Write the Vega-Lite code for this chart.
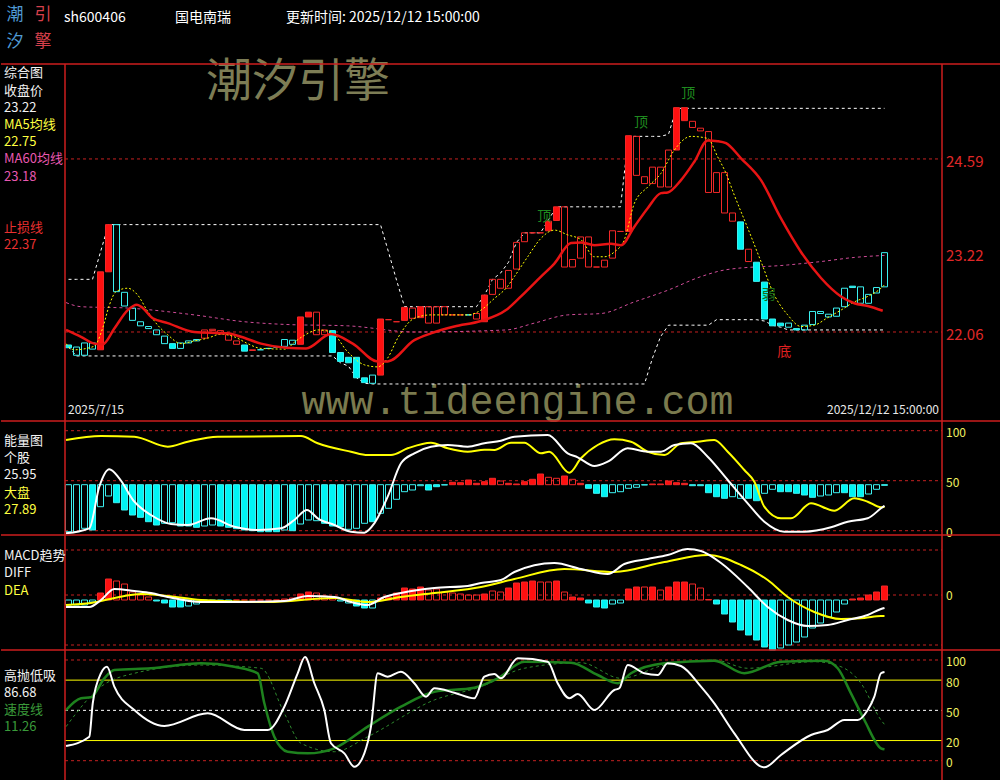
{
"$schema":"https://vega.github.io/schema/vega-lite/v6.json",
"background":"#000000",
"padding":0,
"bounds":"flush",
"spacing":0,
"config":{"view":{"stroke":null},"text":{"font":"Noto Sans CJK SC"},"scale":{"continuousPadding":0}},
"datasets":{
"logo":[{"ch":"潮","c":0,"r":0,"g":"tide"},{"ch":"引","c":1,"r":0,"g":"engine"},{"ch":"汐","c":0,"r":1,"g":"tide"},{"ch":"擎","c":1,"r":1,"g":"engine"}],
"info":[{"t":"sh600406","slot":0,"r":0},{"t":"国电南瑞","slot":1,"r":0},{"t":"更新时间: 2025/12/12 15:00:00","slot":2,"r":0}],
"k":[
{"i":0,"o":21.87,"c":21.83,"t":"dn","s":1,"hh":22.83,"ll":21.84},
{"i":1,"o":21.84,"c":21.72,"t":"dn","s":0,"hh":22.83,"ll":21.71},
{"i":2,"o":21.90,"c":21.72,"t":"dn","s":0,"hh":22.83,"ll":21.71},
{"i":3,"o":21.90,"c":21.81,"t":"dn","s":0,"hh":22.83,"ll":21.71},
{"i":4,"o":22.94,"c":21.80,"t":"up","s":1,"hh":23.23,"ll":21.71},
{"i":5,"o":23.63,"c":22.94,"t":"up","s":1,"hh":23.63,"ll":21.71},
{"i":6,"o":23.63,"c":22.65,"t":"dn","s":0,"hh":23.63,"ll":21.71},
{"i":7,"o":22.64,"c":22.44,"t":"dn","s":0,"hh":23.63,"ll":21.71},
{"i":8,"o":22.41,"c":22.23,"t":"dn","s":0,"hh":23.63,"ll":21.71},
{"i":9,"o":22.21,"c":22.15,"t":"dn","s":0,"hh":23.63,"ll":21.71},
{"i":10,"o":22.14,"c":22.11,"t":"dn","s":0,"hh":23.63,"ll":21.71},
{"i":11,"o":22.09,"c":22.02,"t":"dn","s":0,"hh":23.63,"ll":21.71},
{"i":12,"o":22.00,"c":21.89,"t":"dn","s":0,"hh":23.63,"ll":21.71},
{"i":13,"o":21.89,"c":21.82,"t":"dn","s":1,"hh":23.63,"ll":21.71},
{"i":14,"o":21.90,"c":21.82,"t":"dn","s":0,"hh":23.63,"ll":21.71},
{"i":15,"o":21.93,"c":21.90,"t":"dn","s":0,"hh":23.63,"ll":21.71},
{"i":16,"o":21.95,"c":21.93,"t":"dn","s":0,"hh":23.63,"ll":21.71},
{"i":17,"o":22.09,"c":21.97,"t":"up","s":0,"hh":23.63,"ll":21.71},
{"i":18,"o":22.10,"c":22.08,"t":"up","s":0,"hh":23.63,"ll":21.71},
{"i":19,"o":22.08,"c":22.03,"t":"up","s":0,"hh":23.63,"ll":21.71},
{"i":20,"o":22.02,"c":21.94,"t":"up","s":0,"hh":23.63,"ll":21.71},
{"i":21,"o":21.93,"c":21.88,"t":"up","s":0,"hh":23.63,"ll":21.71},
{"i":22,"o":21.87,"c":21.78,"t":"dn","s":1,"hh":23.63,"ll":21.71},
{"i":23,"o":21.80,"c":21.79,"t":"up","s":0,"hh":23.63,"ll":21.71},
{"i":24,"o":21.80,"c":21.80,"t":"dn","s":0,"hh":23.63,"ll":21.71},
{"i":25,"o":21.82,"c":21.82,"t":"dn","s":0,"hh":23.63,"ll":21.71},
{"i":26,"o":21.84,"c":21.84,"t":"dn","s":0,"hh":23.63,"ll":21.71},
{"i":27,"o":21.95,"c":21.85,"t":"dn","s":0,"hh":23.63,"ll":21.71},
{"i":28,"o":21.94,"c":21.88,"t":"dn","s":0,"hh":23.63,"ll":21.71},
{"i":29,"o":22.28,"c":21.88,"t":"up","s":1,"hh":23.63,"ll":21.71},
{"i":30,"o":22.35,"c":22.28,"t":"up","s":1,"hh":23.63,"ll":21.71},
{"i":31,"o":22.35,"c":22.02,"t":"up","s":0,"hh":23.63,"ll":21.71},
{"i":32,"o":22.09,"c":22.02,"t":"up","s":0,"hh":23.63,"ll":21.71},
{"i":33,"o":22.08,"c":21.76,"t":"dn","s":1,"hh":23.63,"ll":21.71},
{"i":34,"o":21.76,"c":21.63,"t":"dn","s":1,"hh":23.63,"ll":21.61},
{"i":35,"o":21.69,"c":21.61,"t":"dn","s":1,"hh":23.63,"ll":21.56},
{"i":36,"o":21.69,"c":21.39,"t":"dn","s":1,"hh":23.63,"ll":21.39},
{"i":37,"o":21.39,"c":21.32,"t":"dn","s":1,"hh":23.63,"ll":21.31},
{"i":38,"o":21.43,"c":21.31,"t":"dn","s":0,"hh":23.63,"ll":21.30},
{"i":39,"o":22.25,"c":21.43,"t":"up","s":1,"hh":23.63,"ll":21.30},
{"i":40,"o":22.24,"c":22.24,"t":"up","s":0,"hh":23.23,"ll":21.30},
{"i":41,"o":22.21,"c":22.21,"t":"up","s":0,"hh":22.82,"ll":21.30},
{"i":42,"o":22.42,"c":22.23,"t":"up","s":1,"hh":22.43,"ll":21.30},
{"i":43,"o":22.41,"c":22.26,"t":"up","s":0,"hh":22.43,"ll":21.30},
{"i":44,"o":22.43,"c":22.27,"t":"up","s":1,"hh":22.43,"ll":21.30},
{"i":45,"o":22.43,"c":22.19,"t":"up","s":0,"hh":22.43,"ll":21.30},
{"i":46,"o":22.43,"c":22.19,"t":"up","s":0,"hh":22.43,"ll":21.30},
{"i":47,"o":22.43,"c":22.31,"t":"up","s":0,"hh":22.43,"ll":21.30},
{"i":48,"o":22.31,"c":22.31,"t":"up","s":0,"hh":22.43,"ll":21.30},
{"i":49,"o":22.31,"c":22.31,"t":"up","s":0,"hh":22.43,"ll":21.30},
{"i":50,"o":22.31,"c":22.31,"t":"dn","s":0,"hh":22.43,"ll":21.30},
{"i":51,"o":22.33,"c":22.25,"t":"up","s":0,"hh":22.43,"ll":21.30},
{"i":52,"o":22.60,"c":22.21,"t":"up","s":1,"hh":22.60,"ll":21.30},
{"i":53,"o":22.83,"c":22.61,"t":"up","s":0,"hh":22.83,"ll":21.30},
{"i":54,"o":22.83,"c":22.70,"t":"up","s":0,"hh":22.92,"ll":21.30},
{"i":55,"o":22.96,"c":22.70,"t":"up","s":0,"hh":23.08,"ll":21.30},
{"i":56,"o":23.37,"c":22.98,"t":"up","s":0,"hh":23.37,"ll":21.30},
{"i":57,"o":23.51,"c":23.38,"t":"up","s":0,"hh":23.51,"ll":21.30},
{"i":58,"o":23.51,"c":23.51,"t":"up","s":0,"hh":23.51,"ll":21.30},
{"i":59,"o":23.51,"c":23.51,"t":"up","s":0,"hh":23.51,"ll":21.30},
{"i":60,"o":23.68,"c":23.54,"t":"up","s":1,"hh":23.70,"ll":21.30},
{"i":61,"o":23.89,"c":23.69,"t":"up","s":1,"hh":23.89,"ll":21.30},
{"i":62,"o":23.89,"c":23.01,"t":"up","s":0,"hh":23.89,"ll":21.30},
{"i":63,"o":23.12,"c":23.01,"t":"up","s":0,"hh":23.89,"ll":21.30},
{"i":64,"o":23.45,"c":23.14,"t":"up","s":0,"hh":23.89,"ll":21.30},
{"i":65,"o":23.45,"c":23.01,"t":"up","s":0,"hh":23.89,"ll":21.30},
{"i":66,"o":23.01,"c":23.01,"t":"up","s":0,"hh":23.89,"ll":21.30},
{"i":67,"o":23.11,"c":23.01,"t":"up","s":0,"hh":23.89,"ll":21.30},
{"i":68,"o":23.54,"c":23.14,"t":"up","s":0,"hh":23.89,"ll":21.30},
{"i":69,"o":23.53,"c":23.53,"t":"up","s":0,"hh":23.89,"ll":21.30},
{"i":70,"o":24.93,"c":23.53,"t":"up","s":1,"hh":24.92,"ll":21.30},
{"i":71,"o":24.92,"c":24.35,"t":"up","s":0,"hh":24.92,"ll":21.30},
{"i":72,"o":24.33,"c":24.23,"t":"up","s":0,"hh":24.92,"ll":21.30},
{"i":73,"o":24.47,"c":24.23,"t":"up","s":0,"hh":24.92,"ll":21.68},
{"i":74,"o":24.47,"c":24.18,"t":"up","s":0,"hh":24.92,"ll":21.99},
{"i":75,"o":24.72,"c":24.18,"t":"up","s":0,"hh":24.95,"ll":22.16},
{"i":76,"o":25.34,"c":24.72,"t":"up","s":1,"hh":25.33,"ll":22.16},
{"i":77,"o":25.34,"c":25.15,"t":"up","s":1,"hh":25.33,"ll":22.16},
{"i":78,"o":25.14,"c":25.05,"t":"up","s":0,"hh":25.33,"ll":22.16},
{"i":79,"o":25.04,"c":25.00,"t":"up","s":0,"hh":25.33,"ll":22.16},
{"i":80,"o":24.99,"c":24.10,"t":"up","s":0,"hh":25.33,"ll":22.16},
{"i":81,"o":24.39,"c":24.10,"t":"up","s":0,"hh":25.33,"ll":22.24},
{"i":82,"o":24.39,"c":23.80,"t":"up","s":0,"hh":25.33,"ll":22.24},
{"i":83,"o":23.80,"c":23.68,"t":"up","s":0,"hh":25.33,"ll":22.24},
{"i":84,"o":23.67,"c":23.27,"t":"dn","s":1,"hh":25.33,"ll":22.24},
{"i":85,"o":23.27,"c":23.09,"t":"up","s":0,"hh":25.33,"ll":22.24},
{"i":86,"o":23.08,"c":22.80,"t":"dn","s":1,"hh":25.33,"ll":22.24},
{"i":87,"o":22.79,"c":22.25,"t":"dn","s":1,"hh":25.33,"ll":22.22},
{"i":88,"o":22.25,"c":22.15,"t":"dn","s":1,"hh":25.33,"ll":22.16},
{"i":89,"o":22.19,"c":22.15,"t":"dn","s":1,"hh":25.33,"ll":22.13},
{"i":90,"o":22.19,"c":22.13,"t":"dn","s":0,"hh":25.33,"ll":22.09},
{"i":91,"o":22.11,"c":22.09,"t":"dn","s":1,"hh":25.33,"ll":22.09},
{"i":92,"o":22.16,"c":22.09,"t":"dn","s":0,"hh":25.33,"ll":22.09},
{"i":93,"o":22.36,"c":22.17,"t":"dn","s":0,"hh":25.33,"ll":22.09},
{"i":94,"o":22.36,"c":22.33,"t":"dn","s":0,"hh":25.33,"ll":22.09},
{"i":95,"o":22.32,"c":22.28,"t":"dn","s":0,"hh":25.33,"ll":22.09},
{"i":96,"o":22.41,"c":22.29,"t":"dn","s":0,"hh":25.33,"ll":22.09},
{"i":97,"o":22.70,"c":22.43,"t":"dn","s":0,"hh":25.33,"ll":22.09},
{"i":98,"o":22.73,"c":22.71,"t":"dn","s":1,"hh":25.33,"ll":22.09},
{"i":99,"o":22.72,"c":22.48,"t":"dn","s":0,"hh":25.33,"ll":22.09},
{"i":100,"o":22.61,"c":22.48,"t":"dn","s":0,"hh":25.33,"ll":22.09},
{"i":101,"o":22.71,"c":22.63,"t":"dn","s":0,"hh":25.33,"ll":22.09},
{"i":102,"o":23.22,"c":22.72,"t":"dn","s":0,"hh":25.33,"ll":22.09}
],
"ma5":[{"i":-0.31,"v":21.89},{"i":0.69,"v":21.8},{"i":3.19,"v":21.85},{"i":4.28,"v":22.12},{"i":5.1,"v":22.45},{"i":5.94,"v":22.65},{"i":7.4,"v":22.7},{"i":8.65,"v":22.6},{"i":9.9,"v":22.36},{"i":11.15,"v":22.16},{"i":12.4,"v":22.02},{"i":14.06,"v":21.89},{"i":15.73,"v":21.93},{"i":17.4,"v":21.97},{"i":19.06,"v":22.03},{"i":20.73,"v":21.99},{"i":22.4,"v":21.89},{"i":24.06,"v":21.82},{"i":27.19,"v":21.81},{"i":28.23,"v":21.91},{"i":29.48,"v":22.01},{"i":31.15,"v":22.09},{"i":32.81,"v":22.06},{"i":34.9,"v":21.77},{"i":36.98,"v":21.58},{"i":38.65,"v":21.55},{"i":39.9,"v":21.68},{"i":41.15,"v":21.97},{"i":43.23,"v":22.26},{"i":45.31,"v":22.31},{"i":47.4,"v":22.31},{"i":49.9,"v":22.31},{"i":51.56,"v":22.38},{"i":53.23,"v":22.55},{"i":54.69,"v":22.7},{"i":55.73,"v":22.87},{"i":57.4,"v":23.16},{"i":59.06,"v":23.43},{"i":60.73,"v":23.55},{"i":62.4,"v":23.48},{"i":64.06,"v":23.41},{"i":65.73,"v":23.16},{"i":66.98,"v":23.16},{"i":68.23,"v":23.23},{"i":69.48,"v":23.41},{"i":70.73,"v":23.94},{"i":72.4,"v":24.18},{"i":74.06,"v":24.38},{"i":75.73,"v":24.72},{"i":77.81,"v":24.92},{"i":79.9,"v":24.89},{"i":81.15,"v":24.62},{"i":82.19,"v":24.38},{"i":83.23,"v":24.06},{"i":84.9,"v":23.58},{"i":86.56,"v":23.09},{"i":88.23,"v":22.6},{"i":89.9,"v":22.31},{"i":91.56,"v":22.14},{"i":93.23,"v":22.16},{"i":94.9,"v":22.27},{"i":96.56,"v":22.38},{"i":98.23,"v":22.5},{"i":99.9,"v":22.58},{"i":101.56,"v":22.7},{"i":102,"v":22.75}],
"ma60":[{"i":-0.31,"v":22.49},{"i":1.56,"v":22.43},{"i":7.4,"v":22.41},{"i":15.73,"v":22.31},{"i":21.98,"v":22.21},{"i":27.19,"v":22.17},{"i":34.9,"v":22.15},{"i":43.23,"v":22.06},{"i":54.69,"v":22.09},{"i":58.23,"v":22.19},{"i":62.4,"v":22.31},{"i":66.56,"v":22.33},{"i":70.73,"v":22.5},{"i":74.9,"v":22.67},{"i":79.06,"v":22.87},{"i":82.19,"v":22.97},{"i":89.9,"v":23.04},{"i":94.06,"v":23.09},{"i":98.23,"v":23.15},{"i":102,"v":23.18}],
"stop":[{"i":-0.31,"v":22.09},{"i":1.56,"v":21.99},{"i":3.23,"v":21.89},{"i":4.28,"v":21.88},{"i":5.73,"v":22.11},{"i":7.4,"v":22.38},{"i":8.56,"v":22.46},{"i":9.28,"v":22.41},{"i":10.53,"v":22.26},{"i":12.4,"v":22.19},{"i":15.73,"v":22.06},{"i":19.9,"v":22.04},{"i":21.56,"v":21.99},{"i":24.06,"v":21.89},{"i":27.19,"v":21.83},{"i":29.69,"v":21.82},{"i":32.81,"v":22.03},{"i":35.53,"v":21.89},{"i":38.65,"v":21.63},{"i":39.9,"v":21.63},{"i":43.23,"v":21.94},{"i":45.31,"v":22.04},{"i":48.23,"v":22.14},{"i":51.56,"v":22.22},{"i":54.69,"v":22.38},{"i":56.56,"v":22.58},{"i":59.06,"v":22.87},{"i":60.73,"v":23.06},{"i":62.81,"v":23.36},{"i":64.06,"v":23.37},{"i":65.73,"v":23.33},{"i":67.81,"v":23.35},{"i":69.06,"v":23.33},{"i":70.73,"v":23.6},{"i":72.4,"v":23.87},{"i":74.06,"v":24.09},{"i":74.9,"v":24.1},{"i":76.56,"v":24.28},{"i":78.23,"v":24.55},{"i":79.9,"v":24.86},{"i":81.15,"v":24.85},{"i":82.19,"v":24.82},{"i":84.06,"v":24.6},{"i":86.56,"v":24.28},{"i":89.06,"v":23.72},{"i":91.56,"v":23.23},{"i":94.06,"v":22.85},{"i":96.56,"v":22.58},{"i":98.23,"v":22.48},{"i":99.9,"v":22.44},{"i":101.78,"v":22.37}],
"ann":[{"i":59.48,"v":23.74,"kind":"top","t":"顶"},{"i":71.56,"v":25.12,"kind":"top","t":"顶"},{"i":77.48,"v":25.54,"kind":"top","t":"顶"},{"i":87.53,"v":22.6,"kind":"weak","t":"弱"},{"i":89.48,"v":21.77,"kind":"bottom","t":"底"}],
"en":[{"i":0,"v":-1,"s":0},{"i":1,"v":-1,"s":0},{"i":2,"v":2.4,"s":0},{"i":3,"v":0.7,"s":1},{"i":4,"v":24,"s":0},{"i":5,"v":34.7,"s":0},{"i":6,"v":28,"s":1},{"i":7,"v":20.7,"s":1},{"i":8,"v":15.7,"s":1},{"i":9,"v":13.4,"s":1},{"i":10,"v":9,"s":1},{"i":11,"v":5.7,"s":1},{"i":12,"v":7.4,"s":0},{"i":13,"v":8,"s":0},{"i":14,"v":4.7,"s":1},{"i":15,"v":4.7,"s":1},{"i":16,"v":3.4,"s":1},{"i":17,"v":4.7,"s":0},{"i":18,"v":5.7,"s":0},{"i":19,"v":4.7,"s":1},{"i":20,"v":3.4,"s":1},{"i":21,"v":2,"s":1},{"i":22,"v":0.7,"s":1},{"i":23,"v":0,"s":1},{"i":24,"v":-1,"s":1},{"i":25,"v":-1,"s":1},{"i":26,"v":-1,"s":1},{"i":27,"v":0.7,"s":0},{"i":28,"v":0,"s":1},{"i":29,"v":6.7,"s":0},{"i":30,"v":10.7,"s":0},{"i":31,"v":10,"s":0},{"i":32,"v":7.4,"s":1},{"i":33,"v":4.7,"s":1},{"i":34,"v":4,"s":1},{"i":35,"v":1.4,"s":0},{"i":36,"v":2.4,"s":0},{"i":37,"v":7.4,"s":0},{"i":38,"v":9,"s":1},{"i":39,"v":17.4,"s":0},{"i":40,"v":22.4,"s":0},{"i":41,"v":31.4,"s":0},{"i":42,"v":39,"s":0},{"i":43,"v":40.7,"s":0},{"i":44,"v":45,"s":0},{"i":45,"v":40.7,"s":1},{"i":46,"v":44,"s":1},{"i":47,"v":45.7,"s":0},{"i":48,"v":48.4,"s":1},{"i":49,"v":48,"s":1},{"i":50,"v":50.7,"s":1},{"i":51,"v":47.4,"s":1},{"i":52,"v":49,"s":1},{"i":53,"v":52.4,"s":1},{"i":54,"v":49.7,"s":0},{"i":55,"v":47.4,"s":1},{"i":56,"v":46.7,"s":1},{"i":57,"v":49,"s":1},{"i":58,"v":51.4,"s":1},{"i":59,"v":56.7,"s":1},{"i":60,"v":53.4,"s":0},{"i":61,"v":52.4,"s":0},{"i":62,"v":54.7,"s":1},{"i":63,"v":51.4,"s":0},{"i":64,"v":47.4,"s":1},{"i":65,"v":42.4,"s":1},{"i":66,"v":37.4,"s":1},{"i":67,"v":34,"s":1},{"i":68,"v":38,"s":0},{"i":69,"v":39,"s":0},{"i":70,"v":42.4,"s":0},{"i":71,"v":43.4,"s":0},{"i":72,"v":45.7,"s":0},{"i":73,"v":46.7,"s":1},{"i":74,"v":46.7,"s":1},{"i":75,"v":49.7,"s":1},{"i":76,"v":48,"s":1},{"i":77,"v":47.4,"s":1},{"i":78,"v":45,"s":1},{"i":79,"v":45,"s":1},{"i":80,"v":38,"s":1},{"i":81,"v":34,"s":1},{"i":82,"v":32.4,"s":1},{"i":83,"v":34,"s":0},{"i":84,"v":32.4,"s":0},{"i":85,"v":32.4,"s":1},{"i":86,"v":30,"s":1},{"i":87,"v":37.4,"s":0},{"i":88,"v":41.4,"s":0},{"i":89,"v":39,"s":1},{"i":90,"v":39,"s":1},{"i":91,"v":37.4,"s":1},{"i":92,"v":35.7,"s":1},{"i":93,"v":33.4,"s":1},{"i":94,"v":34.7,"s":0},{"i":95,"v":35.7,"s":0},{"i":96,"v":38,"s":0},{"i":97,"v":38,"s":1},{"i":98,"v":34,"s":1},{"i":99,"v":34,"s":1},{"i":100,"v":36.7,"s":0},{"i":101,"v":41.4,"s":0},{"i":102,"v":45.4,"s":1}],
"enw":[{"i":-0.31,"v":-2.6},{"i":2.6,"v":2.4},{"i":3.85,"v":44},{"i":5.1,"v":61.4},{"i":6.35,"v":52.4},{"i":8.23,"v":29},{"i":10.31,"v":15.7},{"i":12.81,"v":6.7},{"i":14.9,"v":5.7},{"i":17.81,"v":12.4},{"i":20.73,"v":4},{"i":23.65,"v":0.7},{"i":26.56,"v":2.4},{"i":28.23,"v":10.7},{"i":29.81,"v":20.7},{"i":31.15,"v":12.4},{"i":33.23,"v":5.7},{"i":35.31,"v":-1},{"i":36.98,"v":-2},{"i":38.23,"v":7.4},{"i":39.9,"v":34},{"i":41.56,"v":67.4},{"i":43.23,"v":77.4},{"i":45.31,"v":84},{"i":47.4,"v":85.7},{"i":49.9,"v":84},{"i":51.98,"v":87.4},{"i":54.06,"v":90},{"i":55.73,"v":94},{"i":59.9,"v":95.7},{"i":62.4,"v":77.4},{"i":63.65,"v":73.4},{"i":65.73,"v":64.7},{"i":67.4,"v":69},{"i":69.9,"v":82.4},{"i":72.4,"v":79},{"i":74.06,"v":79},{"i":75.73,"v":85.7},{"i":77.81,"v":87.4},{"i":79.9,"v":74},{"i":82.4,"v":50.7},{"i":84.9,"v":27.4},{"i":86.98,"v":9},{"i":89.48,"v":-1},{"i":91.98,"v":-1},{"i":95.31,"v":3.4},{"i":97.4,"v":9},{"i":99.9,"v":12.4},{"i":101.56,"v":22.4},{"i":102,"v":25}],
"eny":[{"i":-0.31,"v":90.7},{"i":4.06,"v":94.7},{"i":8.23,"v":94},{"i":12.4,"v":84},{"i":14.9,"v":89},{"i":18.65,"v":94},{"i":29.06,"v":94.7},{"i":31.15,"v":87.4},{"i":35.31,"v":79},{"i":37.4,"v":75.7},{"i":40.31,"v":75.7},{"i":42.4,"v":82.4},{"i":45.31,"v":88},{"i":47.4,"v":82.4},{"i":49.9,"v":79},{"i":51.98,"v":81},{"i":53.23,"v":80.7},{"i":55.31,"v":88},{"i":56.98,"v":88},{"i":59.06,"v":77.4},{"i":60.1,"v":79},{"i":62.6,"v":58},{"i":64.06,"v":72.4},{"i":66.15,"v":85.7},{"i":68.23,"v":91.4},{"i":70.31,"v":89},{"i":72.4,"v":79},{"i":74.48,"v":75.7},{"i":76.56,"v":87.4},{"i":78.65,"v":89},{"i":80.73,"v":90.7},{"i":82.4,"v":79},{"i":84.48,"v":60.7},{"i":85.73,"v":49},{"i":86.98,"v":24},{"i":89.06,"v":12.4},{"i":90.31,"v":12.4},{"i":92.81,"v":27.4},{"i":95.73,"v":20},{"i":98.23,"v":32.4},{"i":99.9,"v":29},{"i":101.56,"v":23.4},{"i":102,"v":24}],
"mb":[{"i":0,"v":-0.05,"s":0},{"i":1,"v":-0.05,"s":0},{"i":2,"v":-0.05,"s":0},{"i":3,"v":-0.02,"s":0},{"i":4,"v":0.07,"s":1},{"i":5,"v":0.21,"s":1},{"i":6,"v":0.19,"s":0},{"i":7,"v":0.16,"s":0},{"i":8,"v":0.08,"s":0},{"i":9,"v":0.05,"s":0},{"i":10,"v":0.03,"s":0},{"i":11,"v":-0.01,"s":1},{"i":12,"v":-0.03,"s":1},{"i":13,"v":-0.07,"s":1},{"i":14,"v":-0.07,"s":1},{"i":15,"v":-0.06,"s":0},{"i":16,"v":-0.04,"s":0},{"i":17,"v":-0.02,"s":0},{"i":18,"v":-0.01,"s":0},{"i":19,"v":-0.01,"s":0},{"i":20,"v":-0.01,"s":0},{"i":21,"v":0,"s":0},{"i":22,"v":0,"s":0},{"i":23,"v":0,"s":0},{"i":24,"v":0,"s":0},{"i":25,"v":0,"s":0},{"i":26,"v":0,"s":0},{"i":27,"v":0.01,"s":0},{"i":28,"v":0.02,"s":0},{"i":29,"v":0.06,"s":1},{"i":30,"v":0.08,"s":1},{"i":31,"v":0.07,"s":0},{"i":32,"v":0.04,"s":0},{"i":33,"v":0.02,"s":0},{"i":34,"v":-0.01,"s":0},{"i":35,"v":-0.03,"s":0},{"i":36,"v":-0.06,"s":1},{"i":37,"v":-0.08,"s":1},{"i":38,"v":-0.08,"s":0},{"i":39,"v":0.02,"s":1},{"i":40,"v":0.03,"s":1},{"i":41,"v":0.07,"s":1},{"i":42,"v":0.12,"s":1},{"i":43,"v":0.11,"s":1},{"i":44,"v":0.13,"s":1},{"i":45,"v":0.1,"s":0},{"i":46,"v":0.11,"s":0},{"i":47,"v":0.08,"s":0},{"i":48,"v":0.07,"s":0},{"i":49,"v":0.06,"s":0},{"i":50,"v":0.05,"s":0},{"i":51,"v":0.05,"s":0},{"i":52,"v":0.06,"s":1},{"i":53,"v":0.09,"s":0},{"i":54,"v":0.08,"s":0},{"i":55,"v":0.12,"s":1},{"i":56,"v":0.17,"s":1},{"i":57,"v":0.18,"s":1},{"i":58,"v":0.19,"s":1},{"i":59,"v":0.18,"s":0},{"i":60,"v":0.18,"s":0},{"i":61,"v":0.19,"s":1},{"i":62,"v":0.08,"s":0},{"i":63,"v":0.03,"s":1},{"i":64,"v":0.02,"s":1},{"i":65,"v":-0.03,"s":1},{"i":66,"v":-0.07,"s":1},{"i":67,"v":-0.08,"s":1},{"i":68,"v":-0.04,"s":0},{"i":69,"v":-0.03,"s":0},{"i":70,"v":0.11,"s":1},{"i":71,"v":0.13,"s":1},{"i":72,"v":0.13,"s":0},{"i":73,"v":0.13,"s":1},{"i":74,"v":0.1,"s":0},{"i":75,"v":0.13,"s":1},{"i":76,"v":0.18,"s":1},{"i":77,"v":0.18,"s":1},{"i":78,"v":0.16,"s":0},{"i":79,"v":0.12,"s":0},{"i":80,"v":0.005,"s":0},{"i":81,"v":-0.04,"s":1},{"i":82,"v":-0.14,"s":1},{"i":83,"v":-0.22,"s":1},{"i":84,"v":-0.3,"s":1},{"i":85,"v":-0.35,"s":1},{"i":86,"v":-0.4,"s":1},{"i":87,"v":-0.47,"s":1},{"i":88,"v":-0.5,"s":1},{"i":89,"v":-0.48,"s":0},{"i":90,"v":-0.45,"s":0},{"i":91,"v":-0.42,"s":0},{"i":92,"v":-0.37,"s":0},{"i":93,"v":-0.28,"s":0},{"i":94,"v":-0.23,"s":0},{"i":95,"v":-0.17,"s":0},{"i":96,"v":-0.12,"s":0},{"i":97,"v":-0.04,"s":0},{"i":98,"v":0.01,"s":1},{"i":99,"v":0.02,"s":1},{"i":100,"v":0.05,"s":1},{"i":101,"v":0.08,"s":1},{"i":102,"v":0.14,"s":1}],
"dif":[{"i":-0.31,"v":-0.07},{"i":2.6,"v":-0.07},{"i":4.06,"v":0},{"i":5.73,"v":0.11},{"i":8.23,"v":0.09},{"i":10.31,"v":0.07},{"i":12.4,"v":0.03},{"i":16.56,"v":-0.02},{"i":20.73,"v":-0.02},{"i":26.98,"v":-0.01},{"i":29.9,"v":0.04},{"i":33.23,"v":0.03},{"i":35.31,"v":-0.02},{"i":37.4,"v":-0.05},{"i":39.48,"v":0.03},{"i":41.56,"v":0.07},{"i":45.73,"v":0.12},{"i":49.9,"v":0.14},{"i":51.56,"v":0.17},{"i":54.06,"v":0.2},{"i":55.73,"v":0.28},{"i":60.73,"v":0.37},{"i":64.06,"v":0.31},{"i":67.4,"v":0.26},{"i":69.48,"v":0.36},{"i":72.4,"v":0.41},{"i":74.9,"v":0.45},{"i":77.4,"v":0.51},{"i":79.06,"v":0.49},{"i":81.56,"v":0.37},{"i":84.9,"v":0.13},{"i":87.4,"v":-0.07},{"i":89.9,"v":-0.2},{"i":92.4,"v":-0.26},{"i":94.9,"v":-0.25},{"i":97.4,"v":-0.2},{"i":99.9,"v":-0.15},{"i":101.56,"v":-0.09},{"i":102,"v":-0.08}],
"dea":[{"i":-0.31,"v":-0.05},{"i":2.81,"v":-0.03},{"i":5.73,"v":0.02},{"i":9.06,"v":0.06},{"i":12.4,"v":0.04},{"i":16.56,"v":0},{"i":24.9,"v":-0.02},{"i":33.23,"v":0.02},{"i":37.4,"v":-0.02},{"i":41.56,"v":0.03},{"i":45.73,"v":0.07},{"i":51.56,"v":0.13},{"i":55.73,"v":0.21},{"i":61.98,"v":0.31},{"i":68.23,"v":0.28},{"i":74.48,"v":0.38},{"i":79.9,"v":0.45},{"i":84.06,"v":0.35},{"i":87.4,"v":0.2},{"i":89.9,"v":0.03},{"i":93.23,"v":-0.12},{"i":96.56,"v":-0.19},{"i":99.48,"v":-0.18},{"i":101.56,"v":-0.16},{"i":102,"v":-0.16}],
"gw":[{"i":-0.31,"v":14.6},{"i":2.6,"v":23.8},{"i":3.03,"v":57},{"i":4.06,"v":86.8},{"i":4.81,"v":93.3},{"i":5.73,"v":73.5},{"i":8.23,"v":50.3},{"i":11.98,"v":34.5},{"i":17.4,"v":47},{"i":21.98,"v":30.5},{"i":24.9,"v":30.5},{"i":26.98,"v":53.6},{"i":28.65,"v":86.8},{"i":29.56,"v":103},{"i":30.73,"v":76.9},{"i":31.98,"v":50.3},{"i":32.81,"v":17.3},{"i":34.48,"v":7.3},{"i":35.73,"v":-6},{"i":36.98,"v":7.3},{"i":37.81,"v":33.8},{"i":38.65,"v":86.8},{"i":39.9,"v":83.4},{"i":41.56,"v":88.4},{"i":43.23,"v":76.9},{"i":44.69,"v":63.6},{"i":45.73,"v":71.9},{"i":48.23,"v":67.5},{"i":50.73,"v":62},{"i":51.98,"v":83.4},{"i":53.23,"v":86.1},{"i":54.06,"v":81.8},{"i":56.15,"v":101.7},{"i":59.9,"v":98.3},{"i":61.15,"v":76.9},{"i":62.6,"v":62},{"i":63.65,"v":66.2},{"i":65.73,"v":50.3},{"i":68.23,"v":70.2},{"i":68.85,"v":71.9},{"i":69.9,"v":95},{"i":71.98,"v":86.8},{"i":73.65,"v":85.1},{"i":74.9,"v":96.7},{"i":76.56,"v":94},{"i":79.06,"v":73.5},{"i":80.73,"v":57},{"i":83.23,"v":27.2},{"i":86.98,"v":-6.6},{"i":89.06,"v":5.7},{"i":92.81,"v":25.5},{"i":94.9,"v":30.5},{"i":96.98,"v":40.4},{"i":98.65,"v":40.4},{"i":99.9,"v":50.3},{"i":100.73,"v":63.6},{"i":101.56,"v":86.8},{"i":102,"v":88}],
"gs":[{"i":-0.31,"v":50.3},{"i":1.56,"v":62},{"i":2.81,"v":63},{"i":4.48,"v":81.8},{"i":5.73,"v":90},{"i":10.31,"v":91.8},{"i":16.56,"v":96.7},{"i":20.73,"v":93.3},{"i":23.65,"v":86.8},{"i":24.48,"v":57},{"i":25.73,"v":23.8},{"i":27.4,"v":8.9},{"i":29.9,"v":7.3},{"i":33.23,"v":12.3},{"i":37.4,"v":33.8},{"i":41.56,"v":53.6},{"i":45.73,"v":68.5},{"i":50.73,"v":72.5},{"i":53.65,"v":81.8},{"i":56.98,"v":98.3},{"i":62.81,"v":97.3},{"i":66.15,"v":85.1},{"i":68.65,"v":76.9},{"i":70.31,"v":86.8},{"i":74.48,"v":96.7},{"i":80.73,"v":99.3},{"i":84.48,"v":86.8},{"i":89.06,"v":98.3},{"i":94.48,"v":99.3},{"i":96.15,"v":91.8},{"i":97.81,"v":66.9},{"i":99.48,"v":40.4},{"i":101.56,"v":12.3},{"i":102,"v":11.3}],
"gd":[{"i":-0.31,"v":33.8},{"i":4.06,"v":73.5},{"i":8.23,"v":86.8},{"i":16.56,"v":95},{"i":24.06,"v":91.8},{"i":26.98,"v":47},{"i":29.06,"v":17.3},{"i":33.23,"v":8.9},{"i":37.4,"v":23.8},{"i":45.73,"v":60.3},{"i":51.56,"v":73.5},{"i":56.98,"v":91.8},{"i":64.06,"v":97.3},{"i":69.06,"v":81.8},{"i":74.48,"v":95},{"i":80.73,"v":100},{"i":84.9,"v":91.8},{"i":93.23,"v":98.3},{"i":96.56,"v":93.3},{"i":99.06,"v":76.9},{"i":101.56,"v":40.4},{"i":102,"v":36}],
"lab1":[{"t":"综合图","s":"title","n":0},{"t":"收盘价","s":"close","n":1},{"t":"23.22","s":"close","n":2},{"t":"MA5均线","s":"ma5","n":3},{"t":"22.75","s":"ma5","n":4},{"t":"MA60均线","s":"ma60","n":5},{"t":"23.18","s":"ma60","n":6},{"t":"止损线","s":"stop","n":9},{"t":"22.37","s":"stop","n":10}],
"lab2":[{"t":"能量图","s":"title","n":0},{"t":"个股","s":"stock","n":1},{"t":"25.95","s":"stock","n":2},{"t":"大盘","s":"market","n":3},{"t":"27.89","s":"market","n":4}],
"lab3":[{"t":"MACD趋势","s":"title","n":0},{"t":"DIFF","s":"diff","n":1},{"t":"DEA","s":"dea","n":2}],
"lab4":[{"t":"高抛低吸","s":"title","n":0},{"t":"86.68","s":"gp","n":1},{"t":"速度线","s":"speed","n":2},{"t":"11.26","s":"speed","n":3}]
},
"vconcat":[
{"width":1000,"height":64,
 "resolve":{"scale":{"x":"independent","y":"independent","color":"independent"}},
 "layer":[
  {"data":{"name":"logo"},"mark":{"type":"text","fontSize":17,"align":"center","baseline":"middle"},
   "encoding":{"x":{"field":"c","type":"quantitative","scale":{"domain":[-0.5,35.214],"nice":false,"zero":false,"padding":0},"axis":null},
    "y":{"field":"r","type":"quantitative","scale":{"domain":[-0.5556,1.8148],"reverse":true,"nice":false,"zero":false,"padding":0},"axis":null},
    "text":{"field":"ch"},
    "color":{"field":"g","type":"nominal","scale":{"domain":["tide","engine"],"range":["#4f9ad4","#d8404c"]},"legend":null}}},
  {"data":{"name":"info"},"mark":{"type":"text","fontSize":14,"align":"left","baseline":"middle","color":"#ffffff"},
   "encoding":{"x":{"field":"slot","type":"quantitative","scale":{"domain":[-0.5676,8.4414],"nice":false,"zero":false,"padding":0},"axis":null},
    "y":{"field":"r","type":"quantitative","scale":{"domain":[-0.643,1.643],"reverse":true,"nice":false,"zero":false,"padding":0},"axis":null},
    "text":{"field":"t"}}}
 ]},
{"width":1000,"height":357,
 "resolve":{"scale":{"y":"independent"}},
 "layer":[
  {"layer":[
   {"data":{"values":[{"t":"潮汐引擎"}]},"mark":{"type":"text","fontSize":46,"color":"#7d7d55","align":"center","baseline":"middle"},
    "encoding":{"x":{"datum":28.7,"type":"quantitative","scale":{"domain":[-8.4375,116.5625],"nice":false,"zero":false,"padding":0},"axis":null},"y":{"datum":25.715,"type":"quantitative","scale":{"domain":[20.7588,25.9781],"nice":false,"zero":false,"padding":0},"axis":null},"text":{"field":"t"}}},
   {"data":{"values":[{"t":"www.tideengine.com"}]},"mark":{"type":"text","font":"Liberation Mono","fontSize":40,"color":"#7a7a4e","align":"center","baseline":"alphabetic"},
    "encoding":{"x":{"datum":56.125,"type":"quantitative","axis":null},"y":{"datum":20.868,"type":"quantitative","axis":null},"text":{"field":"t"}}},
   {"data":{"values":[{"v":24.59},{"v":22.06}]},"mark":{"type":"rule","stroke":"#c42020","strokeDash":[3,3],"strokeWidth":1},
    "encoding":{"y":{"field":"v","type":"quantitative","axis":null},"x":{"datum":-0.4375,"type":"quantitative","axis":null},"x2":{"datum":109.1875}}},
   {"data":{"name":"k"},"mark":{"type":"line","stroke":"#ffffff","strokeDash":[3,3],"strokeWidth":1},
    "encoding":{"x":{"field":"i","type":"quantitative","axis":null},"y":{"field":"hh","type":"quantitative","axis":null}}},
   {"data":{"name":"k"},"mark":{"type":"line","stroke":"#ffffff","strokeDash":[3,3],"strokeWidth":1},
    "encoding":{"x":{"field":"i","type":"quantitative","axis":null},"y":{"field":"ll","type":"quantitative","axis":null}}},
   {"data":{"name":"ma60"},"mark":{"type":"line","stroke":"#d04c98","strokeDash":[3,3],"strokeWidth":1,"interpolate":"monotone"},
    "encoding":{"x":{"field":"i","type":"quantitative","axis":null},"y":{"field":"v","type":"quantitative","axis":null}}},
   {"data":{"name":"k"},"mark":{"type":"bar","size":6,"strokeWidth":1},
    "encoding":{"x":{"field":"i","type":"quantitative","scale":{"padding":0},"axis":null},"y":{"field":"o","type":"quantitative","axis":null},"y2":{"field":"c"},
     "fill":{"field":"t","type":"nominal","scale":{"domain":["up","dn"],"range":["#ff1010","#00f4f4"]},"legend":null},
     "stroke":{"field":"t","type":"nominal","scale":{"domain":["up","dn"],"range":["#f02828","#3cf0f0"]},"legend":null},
     "fillOpacity":{"condition":{"test":"datum.s == 1","value":1},"value":0}}},
   {"data":{"name":"ma5"},"mark":{"type":"line","stroke":"#ffff00","strokeDash":[2,2],"strokeWidth":1,"interpolate":"monotone"},
    "encoding":{"x":{"field":"i","type":"quantitative","axis":null},"y":{"field":"v","type":"quantitative","axis":null}}},
   {"data":{"name":"stop"},"mark":{"type":"line","stroke":"#e81414","strokeWidth":2.5,"interpolate":"monotone"},
    "encoding":{"x":{"field":"i","type":"quantitative","axis":null},"y":{"field":"v","type":"quantitative","axis":null}}},
   {"data":{"name":"ann"},"transform":[{"filter":"datum.kind == 'top'"}],"mark":{"type":"text","fontSize":14,"color":"#1f8a1f","align":"center","baseline":"middle"},
    "encoding":{"x":{"field":"i","type":"quantitative","axis":null},"y":{"field":"v","type":"quantitative","axis":null},"text":{"field":"t"}}},
   {"data":{"name":"ann"},"transform":[{"filter":"datum.kind == 'weak'"}],"mark":{"type":"text","fontSize":14,"color":"#1a6a1a","align":"center","baseline":"middle"},
    "encoding":{"x":{"field":"i","type":"quantitative","axis":null},"y":{"field":"v","type":"quantitative","axis":null},"text":{"field":"t"}}},
   {"data":{"name":"ann"},"transform":[{"filter":"datum.kind == 'bottom'"}],"mark":{"type":"text","fontSize":14,"color":"#e02020","align":"center","baseline":"middle"},
    "encoding":{"x":{"field":"i","type":"quantitative","axis":null},"y":{"field":"v","type":"quantitative","axis":null},"text":{"field":"t"}}},
   {"data":{"values":[{"t":"2025/7/15"}]},"mark":{"type":"text","fontSize":12,"color":"#e8e8e8","align":"left","baseline":"middle"},
    "encoding":{"x":{"datum":-0.0625,"type":"quantitative","axis":null},"y":{"datum":20.92,"type":"quantitative","axis":null},"text":{"field":"t"}}},
   {"data":{"values":[{"t":"2025/12/12 15:00:00"}]},"mark":{"type":"text","fontSize":12,"color":"#e8e8e8","align":"right","baseline":"middle"},
    "encoding":{"x":{"datum":108.8125,"type":"quantitative","axis":null},"y":{"datum":20.92,"type":"quantitative","axis":null},"text":{"field":"t"}}},
   {"data":{"values":[{"v":24.59},{"v":23.22},{"v":22.06}]},"mark":{"type":"text","fontSize":15,"color":"#e02828","align":"left","baseline":"middle","dy":3},
    "encoding":{"x":{"datum":109.69,"type":"quantitative","axis":null},"y":{"field":"v","type":"quantitative","axis":null},"text":{"field":"v","type":"quantitative","format":".2f"}}},
   {"data":{"values":[{}]},"mark":{"type":"rule","stroke":"#cc1e1e","strokeWidth":1.5},"encoding":{"y":{"datum":25.9781,"type":"quantitative","axis":null}}},
   {"data":{"values":[{}]},"mark":{"type":"rule","stroke":"#cc1e1e","strokeWidth":1.5},"encoding":{"x":{"datum":-0.4375,"type":"quantitative","axis":null}}},
   {"data":{"values":[{}]},"mark":{"type":"rule","stroke":"#cc1e1e","strokeWidth":1.5},"encoding":{"x":{"datum":109.1875,"type":"quantitative","axis":null}}}
  ]},
  {"data":{"name":"lab1"},"mark":{"type":"text","fontSize":13,"align":"left","baseline":"middle"},
   "encoding":{"x":{"datum":-8.0625,"type":"quantitative","axis":null},
    "y":{"field":"n","type":"quantitative","scale":{"domain":[-0.541,20.215],"reverse":true,"nice":false,"zero":false,"padding":0},"axis":null},
    "text":{"field":"t"},
    "color":{"field":"s","type":"nominal","scale":{"domain":["title","close","ma5","ma60","stop","stock","market","diff","dea","gp","speed"],"range":["#f2f2f2","#f2f2f2","#ffff40","#e858b0","#e83030","#f2f2f2","#ffff40","#f2f2f2","#ffff40","#f2f2f2","#3a9a3a"]},"legend":null}}}
 ]},
{"width":1000,"height":114,
 "resolve":{"scale":{"y":"independent"}},
 "layer":[
  {"layer":[
   {"data":{"values":[{"v":100},{"v":50},{"v":0}]},"mark":{"type":"rule","stroke":"#c42020","strokeDash":[3,3],"strokeWidth":1},
    "encoding":{"y":{"field":"v","type":"quantitative","scale":{"domain":[-4.3,109.7],"nice":false,"zero":false,"padding":0},"axis":null},"x":{"datum":-0.4375,"type":"quantitative","scale":{"domain":[-8.4375,116.5625],"nice":false,"zero":false,"padding":0},"axis":null},"x2":{"datum":109.1875}}},
   {"data":{"name":"en"},"mark":{"type":"bar","size":6,"strokeWidth":1},
    "encoding":{"x":{"field":"i","type":"quantitative","scale":{"padding":0},"axis":null},"y":{"field":"v","type":"quantitative","axis":null},"y2":{"datum":46},
     "fill":{"condition":{"test":"datum.v >= 46","value":"#ff1010"},"value":"#00f4f4"},
     "stroke":{"condition":{"test":"datum.v >= 46","value":"#f02828"},"value":"#3cf0f0"},
     "fillOpacity":{"condition":{"test":"datum.s == 1","value":1},"value":0}}},
   {"data":{"name":"eny"},"mark":{"type":"line","stroke":"#ffff00","strokeWidth":2,"interpolate":"monotone"},
    "encoding":{"x":{"field":"i","type":"quantitative","axis":null},"y":{"field":"v","type":"quantitative","axis":null}}},
   {"data":{"name":"enw"},"mark":{"type":"line","stroke":"#ffffff","strokeWidth":2,"interpolate":"monotone"},
    "encoding":{"x":{"field":"i","type":"quantitative","axis":null},"y":{"field":"v","type":"quantitative","axis":null}}},
   {"data":{"values":[{"v":100},{"v":50},{"v":0}]},"mark":{"type":"text","fontSize":12,"color":"#f0f060","align":"left","baseline":"middle","dy":2},
    "encoding":{"x":{"datum":109.69,"type":"quantitative","axis":null},"y":{"field":"v","type":"quantitative","axis":null},"text":{"field":"v","type":"quantitative"}}},
   {"data":{"values":[{}]},"mark":{"type":"rule","stroke":"#cc1e1e","strokeWidth":1.5},"encoding":{"y":{"datum":109.7,"type":"quantitative","axis":null}}},
   {"data":{"values":[{}]},"mark":{"type":"rule","stroke":"#cc1e1e","strokeWidth":1.5},"encoding":{"x":{"datum":-0.4375,"type":"quantitative","axis":null}}},
   {"data":{"values":[{}]},"mark":{"type":"rule","stroke":"#cc1e1e","strokeWidth":1.5},"encoding":{"x":{"datum":109.1875,"type":"quantitative","axis":null}}}
  ]},
  {"data":{"name":"lab2"},"mark":{"type":"text","fontSize":13,"align":"left","baseline":"middle"},
   "encoding":{"x":{"datum":-8.0625,"type":"quantitative","axis":null},
    "y":{"field":"n","type":"quantitative","scale":{"domain":[-1.159,5.449],"reverse":true,"nice":false,"zero":false,"padding":0},"axis":null},
    "text":{"field":"t"},
    "color":{"field":"s","type":"nominal","scale":{"domain":["title","close","ma5","ma60","stop","stock","market","diff","dea","gp","speed"],"range":["#f2f2f2","#f2f2f2","#ffff40","#e858b0","#e83030","#f2f2f2","#ffff40","#f2f2f2","#ffff40","#f2f2f2","#3a9a3a"]},"legend":null}}}
 ]},
{"width":1000,"height":115,
 "resolve":{"scale":{"y":"independent"}},
 "layer":[
  {"layer":[
   {"data":{"values":[{"v":0.5},{"v":0.05},{"v":-0.45}]},"mark":{"type":"rule","stroke":"#c42020","strokeDash":[3,3],"strokeWidth":1},
    "encoding":{"y":{"field":"v","type":"quantitative","scale":{"domain":[-0.5,0.65],"nice":false,"zero":false,"padding":0},"axis":null},"x":{"datum":-0.4375,"type":"quantitative","scale":{"domain":[-8.4375,116.5625],"nice":false,"zero":false,"padding":0},"axis":null},"x2":{"datum":109.1875}}},
   {"data":{"name":"mb"},"mark":{"type":"bar","size":6,"strokeWidth":1},
    "encoding":{"x":{"field":"i","type":"quantitative","scale":{"padding":0},"axis":null},"y":{"field":"v","type":"quantitative","axis":null},"y2":{"datum":0},
     "fill":{"condition":{"test":"datum.v >= 0","value":"#ff1010"},"value":"#00f4f4"},
     "stroke":{"condition":{"test":"datum.v >= 0","value":"#f02828"},"value":"#3cf0f0"},
     "fillOpacity":{"condition":{"test":"datum.s == 1","value":1},"value":0}}},
   {"data":{"name":"dea"},"mark":{"type":"line","stroke":"#ffff00","strokeWidth":2,"interpolate":"monotone"},
    "encoding":{"x":{"field":"i","type":"quantitative","axis":null},"y":{"field":"v","type":"quantitative","axis":null}}},
   {"data":{"name":"dif"},"mark":{"type":"line","stroke":"#ffffff","strokeWidth":2,"interpolate":"monotone"},
    "encoding":{"x":{"field":"i","type":"quantitative","axis":null},"y":{"field":"v","type":"quantitative","axis":null}}},
   {"data":{"values":[{"v":0.05,"t":"0"}]},"mark":{"type":"text","fontSize":12,"color":"#f0f060","align":"left","baseline":"middle","dy":1},
    "encoding":{"x":{"datum":109.69,"type":"quantitative","axis":null},"y":{"field":"v","type":"quantitative","axis":null},"text":{"field":"t"}}},
   {"data":{"values":[{}]},"mark":{"type":"rule","stroke":"#cc1e1e","strokeWidth":1.5},"encoding":{"y":{"datum":0.65,"type":"quantitative","axis":null}}},
   {"data":{"values":[{}]},"mark":{"type":"rule","stroke":"#cc1e1e","strokeWidth":1.5},"encoding":{"x":{"datum":-0.4375,"type":"quantitative","axis":null}}},
   {"data":{"values":[{}]},"mark":{"type":"rule","stroke":"#cc1e1e","strokeWidth":1.5},"encoding":{"x":{"datum":109.1875,"type":"quantitative","axis":null}}}
  ]},
  {"data":{"name":"lab3"},"mark":{"type":"text","fontSize":13,"align":"left","baseline":"middle"},
   "encoding":{"x":{"datum":-8.0625,"type":"quantitative","axis":null},
    "y":{"field":"n","type":"quantitative","scale":{"domain":[-1.21,5.418],"reverse":true,"nice":false,"zero":false,"padding":0},"axis":null},
    "text":{"field":"t"},
    "color":{"field":"s","type":"nominal","scale":{"domain":["title","close","ma5","ma60","stop","stock","market","diff","dea","gp","speed"],"range":["#f2f2f2","#f2f2f2","#ffff40","#e858b0","#e83030","#f2f2f2","#ffff40","#f2f2f2","#ffff40","#f2f2f2","#3a9a3a"]},"legend":null}}}
 ]},
{"width":1000,"height":130,
 "resolve":{"scale":{"y":"independent"}},
 "layer":[
  {"layer":[
   {"data":{"values":[{"v":100},{"v":0}]},"mark":{"type":"rule","stroke":"#c42020","strokeDash":[3,3],"strokeWidth":1},
    "encoding":{"y":{"field":"v","type":"quantitative","scale":{"domain":[-19.17,109.93],"nice":false,"zero":false,"padding":0},"axis":null},"x":{"datum":-0.4375,"type":"quantitative","scale":{"domain":[-8.4375,116.5625],"nice":false,"zero":false,"padding":0},"axis":null},"x2":{"datum":109.1875}}},
   {"data":{"values":[{"v":80},{"v":20}]},"mark":{"type":"rule","stroke":"#ffff00","strokeWidth":1},
    "encoding":{"y":{"field":"v","type":"quantitative","axis":null},"x":{"datum":-0.4375,"type":"quantitative","axis":null},"x2":{"datum":109.1875}}},
   {"data":{"values":[{"v":50}]},"mark":{"type":"rule","stroke":"#ffffff","strokeDash":[3,3],"strokeWidth":1},
    "encoding":{"y":{"field":"v","type":"quantitative","axis":null},"x":{"datum":-0.4375,"type":"quantitative","axis":null},"x2":{"datum":109.1875}}},
   {"data":{"name":"gd"},"mark":{"type":"line","stroke":"#2e8a2e","strokeDash":[3,3],"strokeWidth":1,"interpolate":"monotone"},
    "encoding":{"x":{"field":"i","type":"quantitative","axis":null},"y":{"field":"v","type":"quantitative","axis":null}}},
   {"data":{"name":"gs"},"mark":{"type":"line","stroke":"#1e821e","strokeWidth":2.5,"interpolate":"monotone"},
    "encoding":{"x":{"field":"i","type":"quantitative","axis":null},"y":{"field":"v","type":"quantitative","axis":null}}},
   {"data":{"name":"gw"},"mark":{"type":"line","stroke":"#ffffff","strokeWidth":2,"interpolate":"monotone"},
    "encoding":{"x":{"field":"i","type":"quantitative","axis":null},"y":{"field":"v","type":"quantitative","axis":null}}},
   {"data":{"values":[{"v":100},{"v":80},{"v":50},{"v":20},{"v":0}]},"mark":{"type":"text","fontSize":12,"color":"#f0f060","align":"left","baseline":"middle","dy":2.5},
    "encoding":{"x":{"datum":109.69,"type":"quantitative","axis":null},"y":{"field":"v","type":"quantitative","axis":null},"text":{"field":"v","type":"quantitative"}}},
   {"data":{"values":[{}]},"mark":{"type":"rule","stroke":"#cc1e1e","strokeWidth":1.5},"encoding":{"y":{"datum":109.93,"type":"quantitative","axis":null}}},
   {"data":{"values":[{}]},"mark":{"type":"rule","stroke":"#cc1e1e","strokeWidth":1.5},"encoding":{"x":{"datum":-0.4375,"type":"quantitative","axis":null}}},
   {"data":{"values":[{}]},"mark":{"type":"rule","stroke":"#cc1e1e","strokeWidth":1.5},"encoding":{"x":{"datum":109.1875,"type":"quantitative","axis":null}}}
  ]},
  {"data":{"name":"lab4"},"mark":{"type":"text","fontSize":13,"align":"left","baseline":"middle"},
   "encoding":{"x":{"datum":-8.0625,"type":"quantitative","axis":null},
    "y":{"field":"n","type":"quantitative","scale":{"domain":[-1.52,6.08],"reverse":true,"nice":false,"zero":false,"padding":0},"axis":null},
    "text":{"field":"t"},
    "color":{"field":"s","type":"nominal","scale":{"domain":["title","close","ma5","ma60","stop","stock","market","diff","dea","gp","speed"],"range":["#f2f2f2","#f2f2f2","#ffff40","#e858b0","#e83030","#f2f2f2","#ffff40","#f2f2f2","#ffff40","#f2f2f2","#3a9a3a"]},"legend":null}}}
 ]}
]
}
